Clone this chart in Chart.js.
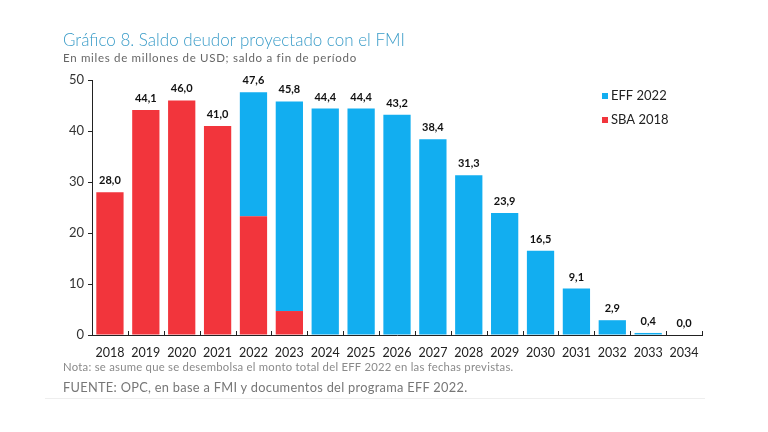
<!DOCTYPE html>
<html>
<head>
<meta charset="utf-8">
<script src="https://cdn.jsdelivr.net/npm/chart.js@4.4.1/dist/chart.umd.min.js"></script>
<style>
  body { margin: 0; background: #fff; font-family: Lato, "Open Sans", sans-serif; }
  #wrap { position: relative; width: 768px; height: 432px; overflow: hidden; }
  canvas { position: absolute; left: 0; top: 0; }
  .txt { position: absolute; white-space: nowrap; }
  #titulo { left: 63px; top: 29px; font-size: 17px; color: #3a9cc8; font-weight: 300; }
  #sub { left: 63px; top: 51px; font-size: 11.5px; color: #666; letter-spacing: 0.7px; }
  #nota { left: 63px; top: 360px; font-size: 11.3px; color: #8a8a8a; letter-spacing: 0.25px; }
  #fuente { left: 63px; top: 379px; font-size: 12.8px; color: #777; letter-spacing: 0.3px; }
  #linea { position: absolute; left: 45px; top: 398px; width: 660px; height: 1px; background: #eee; }
</style>
</head>
<body>
<div id="wrap">
  <canvas id="grafico" width="768" height="432"></canvas>
  <div class="txt" id="titulo">Gráfico 8. Saldo deudor proyectado con el FMI</div>
  <div class="txt" id="sub">En miles de millones de USD; saldo a fin de período</div>
  <div class="txt" id="nota">Nota: se asume que se desembolsa el monto total del EFF 2022 en las fechas previstas.</div>
  <div class="txt" id="fuente">FUENTE: OPC, en base a FMI y documentos del programa EFF 2022.</div>
  <div id="linea"></div>
</div>
<script>
// Datos
const anios = ["2018","2019","2020","2021","2022","2023","2024","2025","2026","2027","2028","2029","2030","2031","2032","2033","2034"];
const sba2018 = [28.0, 44.1, 46.0, 41.0, 23.3, 4.7, 0, 0, 0, 0, 0, 0, 0, 0, 0, 0, 0];
const eff2022 = [0, 0, 0, 0, 24.3, 41.1, 44.4, 44.4, 43.2, 38.4, 31.3, 23.9, 16.5, 9.1, 2.9, 0.4, 0.0];
const totales = [28.0, 44.1, 46.0, 41.0, 47.6, 45.8, 44.4, 44.4, 43.2, 38.4, 31.3, 23.9, 16.5, 9.1, 2.9, 0.4, 0.0];
const ticksY = [0, 10, 20, 30, 40, 50];

const AZUL = "#12aef0";
const ROJO = "#f2353c";

// Etiquetas de totales encima de cada barra
const etiquetasTotales = {
    id: "etiquetasTotales",
    afterDatasetsDraw(chart) {
        const ctx = chart.ctx;
        const y = chart.scales.y;
        const x = chart.scales.x;
        ctx.save();
        ctx.font = "bold 11px Lato, sans-serif";
        ctx.fillStyle = "#111";
        ctx.textAlign = "center";
        ctx.textBaseline = "bottom";
        totales.forEach((v, i) => {
            ctx.fillText(v.toFixed(1).replace(".", ","), x.getPixelForValue(i), y.getPixelForValue(v) - 6);
        });
        ctx.restore();
    }
};

// Marcas pequeñas del eje X hacia arriba, entre categorías
const marcasX = {
    id: "marcasX",
    afterDraw(chart) {
        const ctx = chart.ctx;
        const x = chart.scales.x;
        const base = chart.chartArea.bottom;
        const paso = x.getPixelForValue(1) - x.getPixelForValue(0);
        ctx.save();
        ctx.strokeStyle = "#222";
        ctx.lineWidth = 1;
        for (let i = 0; i <= anios.length; i++) {
            const px = Math.round(x.getPixelForValue(0) - paso / 2 + i * paso) + 0.5;
            ctx.beginPath();
            ctx.moveTo(px, base);
            ctx.lineTo(px, base - 4);
            ctx.stroke();
        }
        ctx.restore();
    }
};

// Leyenda dibujada a mano (EFF 2022 primero)
const leyenda = {
    id: "leyenda",
    afterDraw(chart) {
        const ctx = chart.ctx;
        const items = [[AZUL, "EFF 2022"], [ROJO, "SBA 2018"]];
        ctx.save();
        ctx.font = "13px Lato, sans-serif";
        ctx.textBaseline = "middle";
        items.forEach((it, k) => {
            const yy = 96 + k * 24;
            ctx.fillStyle = it[0];
            ctx.fillRect(602, yy - 3, 6, 6);
            ctx.fillStyle = "#222";
            ctx.fillText(it[1], 611, yy);
        });
        ctx.restore();
    }
};

const ctx = document.getElementById("grafico").getContext("2d");
new Chart(ctx, {
    type: "bar",
    data: {
        labels: anios,
        datasets: [
            { label: "SBA 2018", data: sba2018, backgroundColor: ROJO, borderWidth: 0 },
            { label: "EFF 2022", data: eff2022, backgroundColor: AZUL, borderWidth: 0 }
        ]
    },
    options: {
        responsive: false,
        animation: false,
        barPercentage: 0.76,
        categoryPercentage: 1,
        layout: { padding: { left: 50, top: 80, right: 66, bottom: 72 } },
        plugins: { legend: { display: false }, tooltip: { enabled: false } },
        scales: {
            x: {
                stacked: true,
                grid: { display: false },
                border: { color: "#222", width: 1 },
                ticks: { color: "#222", font: { family: "Lato", size: 12.5 }, padding: 2, maxRotation: 0, autoSkip: false },
                afterFit: s => { s.height = 25; }
            },
            y: {
                stacked: true,
                min: 0,
                max: 50,
                afterBuildTicks: s => { s.ticks = ticksY.map(v => ({ value: v })); },
                grid: { drawOnChartArea: false, drawTicks: true, tickLength: 4, color: "#222" },
                border: { color: "#222", width: 1 },
                ticks: { color: "#333", font: { family: "Lato", size: 13 }, padding: 4 },
                afterFit: s => { s.width = 42; }
            }
        }
    },
    plugins: [etiquetasTotales, marcasX, leyenda]
});
</script>
</body>
</html>
